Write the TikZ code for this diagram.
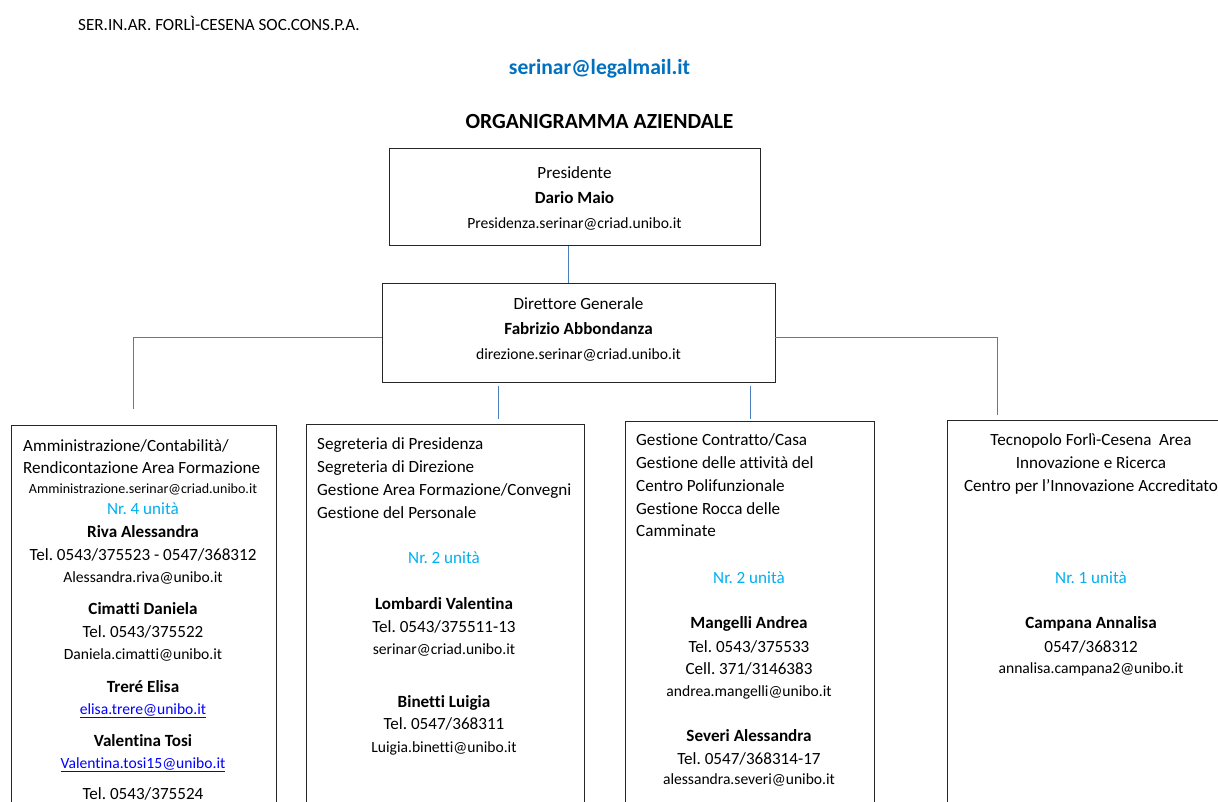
\documentclass[tikz,border=0pt]{standalone}
\usepackage{fontspec}
\setmainfont{Carlito}[Ligatures={NoCommon}]
\frenchspacing
\definecolor{titleblue}{HTML}{0070C0}
\definecolor{unitc}{HTML}{00B0F0}
\definecolor{linkc}{HTML}{0000FF}
\definecolor{connc}{HTML}{4A7EBB}
\tikzset{
  box/.style={draw=black!85, line width=0.9pt, rectangle, inner sep=0pt, anchor=north},
  conn/.style={draw=connc, line width=1pt},
  base/.style={inner sep=0pt, text height=0.62em, text depth=0.12em, yshift=-4pt},
  t/.style={base, font=\fontsize{17.1}{20}\selectfont},
  tb/.style={base, font=\fontsize{17.1}{20}\selectfont\bfseries},
  tl/.style={t, anchor=west},
  em/.style={base, font=\fontsize{15.6}{18}\selectfont},
  sm/.style={base, font=\fontsize{14.05}{16}\selectfont},
  unit/.style={t, text=unitc},
  lnk/.style={em, text=linkc}
}
\begin{document}
\begin{tikzpicture}[x=1pt,y=-1pt]
\useasboundingbox (0,0) rectangle (1218,802);
\clip (0,0) rectangle (1218,802);
\fill[white] (0,0) rectangle (1218,802);

% header
\node[base, font=\fontsize{17.1}{20}\selectfont, anchor=west] (hdr) at (78,24) {SER.IN.AR. FORLÌ-CESENA SOC.CONS.P.A.};
\node[base, font=\fontsize{21.6}{24}\selectfont\bfseries, text=titleblue] (mail) at (599.5,68) {serinar@legalmail.it};
\node[base, font=\fontsize{21.6}{24}\selectfont\bfseries] (ttl) at (599.5,122) {ORGANIGRAMMA AZIENDALE};

% main boxes
\node[box, minimum width=371pt, minimum height=97pt] (p) at (574.5,148) {};
\node[box, minimum width=393pt, minimum height=99pt] (d) at (578.5,283) {};
\node[box, minimum width=265pt, minimum height=600pt] (a) at (143.5,425) {};
\node[box, minimum width=278pt, minimum height=600pt] (b) at (445,424) {};
\node[box, minimum width=249pt, minimum height=600pt] (c) at (749.5,421) {};
\node[box, minimum width=288pt, minimum height=600pt] (e) at (1091,420) {};

% connectors
\coordinate (pc) at (568,0);
\coordinate (hy) at (0,337);
\coordinate (hl) at (133,409);
\coordinate (hr) at (997,415);
\coordinate (m1) at (498,386);
\coordinate (m1e) at (498,419);
\coordinate (m2) at (750,386);
\coordinate (m2e) at (750,419);
\draw[conn] (pc |- p.south) -- (pc |- d.north);
\draw[conn] (d.west |- hy) -| (hl);
\draw[conn] (d.east |- hy) -| (hr);
\draw[conn] (m1) -- (m1e);
\draw[conn] (m2) -- (m2e);

% president
\node[t] (p1) at (574.5,172) {Presidente};
\node[tb] (p2) at (574.5,197) {Dario Maio};
\node[em] (p3) at (574.5,222) {Presidenza.serinar@criad.unibo.it};

% director
\node[t] (d1) at (578.5,303) {Direttore Generale};
\node[tb] (d2) at (578.5,328) {Fabrizio Abbondanza};
\node[em] (d3) at (578.5,353) {direzione.serinar@criad.unibo.it};

% box a
\node[tl] (a1) at (23,445) {Amministrazione/Contabilità/};
\node[tl] (a2) at (23,467) {Rendicontazione Area Formazione};
\node[sm] (a3) at (143,487) {Amministrazione.serinar@criad.unibo.it};
\node[unit] (a4) at (143,508) {Nr. 4 unità};
\node[tb] (a5) at (143,531) {Riva Alessandra};
\node[t] (a6) at (143,554) {Tel. 0543/375523 - 0547/368312};
\node[em] (a7) at (143,576) {Alessandra.riva@unibo.it};
\node[tb] (a8) at (143,608) {Cimatti Daniela};
\node[t] (a9) at (143,631) {Tel. 0543/375522};
\node[em] (a10) at (143,653) {Daniela.cimatti@unibo.it};
\node[tb] (a11) at (143,686) {Treré Elisa};
\node[lnk] (a12) at (143,708) {\underline{elisa.trere@unibo.it}};
\node[tb] (a13) at (143,740) {Valentina Tosi};
\node[lnk] (a14) at (143,762) {\underline{Valentina.tosi15@unibo.it}};
\node[t] (a15) at (143,793) {Tel. 0543/375524};

% box b
\node[tl] (b1) at (317,443) {Segreteria di Presidenza};
\node[tl] (b2) at (317,466) {Segreteria di Direzione};
\node[tl] (b3) at (317,489) {Gestione Area Formazione/Convegni};
\node[tl] (b4) at (317,512) {Gestione del Personale};
\node[unit] (b5) at (444,557) {Nr. 2 unità};
\node[tb] (b6) at (444,603) {Lombardi Valentina};
\node[t] (b7) at (444,626) {Tel. 0543/375511-13};
\node[em] (b8) at (444,648) {serinar@criad.unibo.it};
\node[tb] (b9) at (444,701) {Binetti Luigia};
\node[t] (b10) at (444,723) {Tel. 0547/368311};
\node[em] (b11) at (444,746) {Luigia.binetti@unibo.it};

% box c
\node[tl] (c1) at (636,439) {Gestione Contratto/Casa};
\node[tl] (c2) at (636,462) {Gestione delle attività del};
\node[tl] (c3) at (636,485) {Centro Polifunzionale};
\node[tl] (c4) at (636,508) {Gestione Rocca delle};
\node[tl] (c5) at (636,530) {Camminate};
\node[unit] (c6) at (749,577) {Nr. 2 unità};
\node[tb] (c7) at (749,622) {Mangelli Andrea};
\node[t] (c8) at (749,646) {Tel. 0543/375533};
\node[t] (c9) at (749,668) {Cell. 371/3146383};
\node[em] (c10) at (749,690) {andrea.mangelli@unibo.it};
\node[tb] (c11) at (749,735) {Severi Alessandra};
\node[t] (c12) at (749,758) {Tel. 0547/368314-17};
\node[em] (c13) at (749,778) {alessandra.severi@unibo.it};

% box e
\node[t] (e1) at (1091,439) {Tecnopolo Forlì-Cesena\ \ Area};
\node[t] (e2) at (1091,462) {Innovazione e Ricerca};
\node[t] (e3) at (1091,485) {Centro per l’Innovazione Accreditato};
\node[unit] (e4) at (1091,577) {Nr. 1 unità};
\node[tb] (e5) at (1091,622) {Campana Annalisa};
\node[t] (e6) at (1091,646) {0547/368312};
\node[em] (e7) at (1091,667) {annalisa.campana2@unibo.it};
\end{tikzpicture}
\end{document}
